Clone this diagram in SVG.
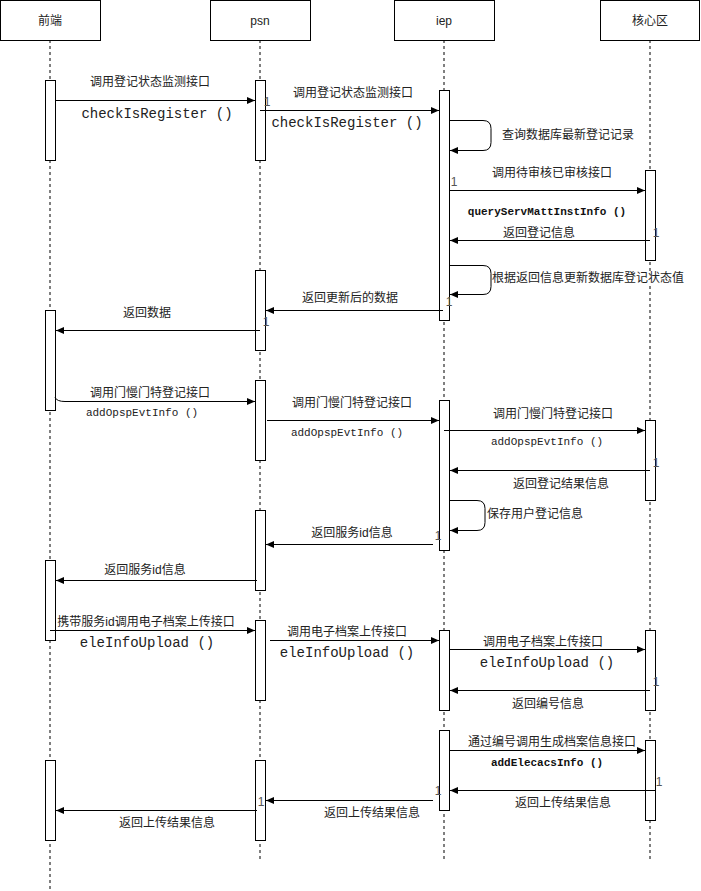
<svg xmlns="http://www.w3.org/2000/svg" width="701" height="891" viewBox="0 0 701 891">
<style>
.box{fill:#fff;stroke:#000;stroke-width:1}
.life{stroke:#000;stroke-width:1;stroke-dasharray:3 3;fill:none}
.act{fill:#fff;stroke:#000;stroke-width:1}
.msg{stroke:#000;stroke-width:1;fill:none;marker-end:url(#ah)}
.t{font-family:"Liberation Sans","Noto Sans CJK SC",sans-serif;font-size:12px;fill:#222;text-anchor:middle}
.tl{font-family:"Liberation Sans","Noto Sans CJK SC",sans-serif;font-size:12px;fill:#222;text-anchor:start}
.m{font-family:"Liberation Mono","DejaVu Sans Mono",monospace;font-size:14px;fill:#222;text-anchor:middle}
.ms{font-family:"Liberation Mono","DejaVu Sans Mono",monospace;font-size:11px;fill:#222;text-anchor:middle}
.mb{font-family:"Liberation Mono","DejaVu Sans Mono",monospace;font-size:11px;font-weight:bold;fill:#111;text-anchor:middle}
.one{font-family:"Liberation Sans",sans-serif;font-size:12px;fill:#555;text-anchor:middle}
</style>
<defs>
<marker id="ah" markerUnits="userSpaceOnUse" markerWidth="9" markerHeight="8" refX="8" refY="4" orient="auto">
<path d="M0,0.5 L8,4 L0,7.5 z" fill="#000"/>
</marker>
</defs>
<rect width="701" height="891" fill="#fff"/>

<g id="lifelines">
<line class="life" x1="50" y1="40" x2="50" y2="889"/>
<line class="life" x1="260" y1="40" x2="260" y2="860"/>
<line class="life" x1="444" y1="40" x2="444" y2="860"/>
<line class="life" x1="650" y1="40" x2="650" y2="860"/>
</g>

<g id="frontend">
<rect class="box" x="0.5" y="0.5" width="100" height="40"/>
<text class="t" x="50" y="25">前端</text>
</g>
<g id="psn">
<rect class="box" x="210.5" y="0.5" width="100" height="40"/>
<text class="t" x="260" y="25">psn</text>
</g>
<g id="iep">
<rect class="box" x="394.5" y="0.5" width="100" height="40"/>
<text class="t" x="444" y="25">iep</text>
</g>
<g id="core">
<rect class="box" x="600.5" y="0.5" width="99" height="40"/>
<text class="t" x="650" y="25">核心区</text>
</g>

<g id="activations">
<rect class="act" x="45.5" y="80.5" width="10" height="80"/>
<rect class="act" x="45.5" y="310.5" width="10" height="100"/>
<rect class="act" x="45.5" y="560.5" width="10" height="80"/>
<rect class="act" x="45.5" y="760.5" width="10" height="80"/>
<rect class="act" x="255.5" y="80.5" width="10" height="80"/>
<rect class="act" x="255.5" y="270.5" width="10" height="80"/>
<rect class="act" x="255.5" y="380.5" width="10" height="80"/>
<rect class="act" x="255.5" y="510.5" width="10" height="80"/>
<rect class="act" x="255.5" y="620.5" width="10" height="80"/>
<rect class="act" x="255.5" y="760.5" width="10" height="80"/>
<rect class="act" x="439.5" y="90.5" width="10" height="230"/>
<rect class="act" x="439.5" y="400.5" width="10" height="150"/>
<rect class="act" x="439.5" y="630.5" width="10" height="80"/>
<rect class="act" x="439.5" y="730.5" width="10" height="80"/>
<rect class="act" x="645.5" y="170.5" width="10" height="90"/>
<rect class="act" x="645.5" y="420.5" width="10" height="80"/>
<rect class="act" x="645.5" y="630.5" width="10" height="80"/>
<rect class="act" x="645.5" y="740.5" width="10" height="80"/>
</g>

<g id="connectors">
<path class="msg" d="M55,100.5 H255"/>
<path class="msg" d="M260,110.5 H439"/>
<path class="msg" d="M449,120.5 H483 Q491,120.5 491,128.5 V142.5 Q491,150.5 483,150.5 H450"/>
<path class="msg" d="M449,190.5 H645"/>
<path class="msg" d="M650,240.5 H450"/>
<path class="msg" d="M449,265.5 H483 Q491,265.5 491,273.5 V286.5 Q491,294.5 483,294.5 H450"/>
<path class="msg" d="M443,310.5 H266"/>
<path class="msg" d="M260,330.5 H56"/>
<path class="msg" d="M55,397.5 Q57,401.5 65,401.5 H255"/>
<path class="msg" d="M267,420.5 H439"/>
<path class="msg" d="M444,430.5 H645"/>
<path class="msg" d="M650,470.5 H450"/>
<path class="msg" d="M449,500.5 H477 Q485,500.5 485,508.5 V522.5 Q485,530.5 477,530.5 H450"/>
<path class="msg" d="M433,544.5 H266"/>
<path class="msg" d="M257,580.5 H56"/>
<path class="msg" d="M50,630.5 H255"/>
<path class="msg" d="M270,640.5 H439"/>
<path class="msg" d="M449,649.5 H645"/>
<path class="msg" d="M650,690.5 H450"/>
<path class="msg" d="M449,750.5 H645"/>
<path class="msg" d="M655,790.5 H450"/>
<path class="msg" d="M433,800.5 H266"/>
<path class="msg" d="M257,810.5 H56"/>
</g>

<g id="labels">
<text class="t" x="150" y="86">调用登记状态监测接口</text>
<text class="m" x="157" y="118">checkIsRegister ()</text>
<text class="t" x="353" y="97">调用登记状态监测接口</text>
<text class="m" x="347" y="127">checkIsRegister ()</text>
<text class="tl" x="502" y="139">查询数据库最新登记记录</text>
<text class="t" x="552" y="177">调用待审核已审核接口</text>
<text class="mb" x="547" y="215">queryServMattInstInfo ()</text>
<rect x="503" y="226" width="72" height="14" fill="#fff"/>
<text class="t" x="539" y="237">返回登记信息</text>
<rect x="492" y="271" width="192" height="14" fill="#fff"/>
<text class="tl" x="492" y="282">根据返回信息更新数据库登记状态值</text>
<text class="t" x="350" y="302">返回更新后的数据</text>
<text class="t" x="147" y="317">返回数据</text>
<text class="t" x="150" y="397">调用门慢门特登记接口</text>
<text class="ms" x="142" y="416">addOpspEvtInfo ()</text>
<text class="t" x="352" y="407">调用门慢门特登记接口</text>
<text class="ms" x="347" y="436">addOpspEvtInfo ()</text>
<text class="t" x="553" y="418">调用门慢门特登记接口</text>
<text class="ms" x="547" y="445">addOpspEvtInfo ()</text>
<text class="t" x="561" y="488">返回登记结果信息</text>
<text class="tl" x="487" y="518">保存用户登记信息</text>
<text class="t" x="352" y="537">返回服务id信息</text>
<text class="t" x="145" y="574">返回服务id信息</text>
<text class="t" x="146" y="626">携带服务id调用电子档案上传接口</text>
<text class="m" x="147" y="647">eleInfoUpload ()</text>
<text class="t" x="347" y="636">调用电子档案上传接口</text>
<text class="m" x="347" y="657">eleInfoUpload ()</text>
<text class="t" x="543" y="646">调用电子档案上传接口</text>
<text class="m" x="547" y="667">eleInfoUpload ()</text>
<text class="t" x="548" y="708">返回编号信息</text>
<text class="t" x="552" y="746">通过编号调用生成档案信息接口</text>
<text class="mb" x="547" y="766">addElecacsInfo ()</text>
<text class="t" x="563" y="807">返回上传结果信息</text>
<text class="t" x="372" y="817">返回上传结果信息</text>
<text class="t" x="167" y="827">返回上传结果信息</text>
</g>

<g id="multiplicities">
<text class="one" x="267" y="106">1</text>
<text class="one" x="454" y="186">1</text>
<text class="one" x="656" y="237">1</text>
<text class="one" x="449" y="306">1</text>
<text class="one" x="266" y="326">1</text>
<text class="one" x="656" y="467">1</text>
<text class="one" x="438" y="540">1</text>
<text class="one" x="656" y="686">1</text>
<text class="one" x="659" y="786">1</text>
<text class="one" x="438" y="795">1</text>
<text class="one" x="261" y="806">1</text>
</g>
</svg>
